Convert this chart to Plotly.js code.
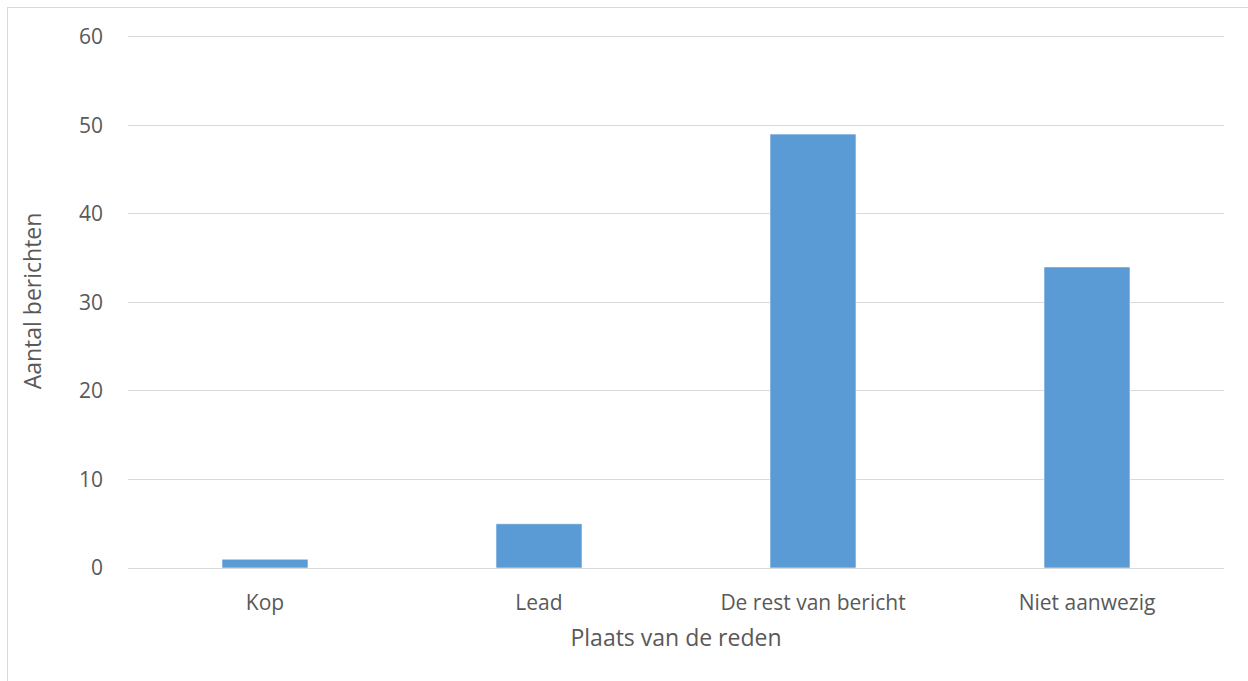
<!DOCTYPE html>
<html>
<head>
<meta charset="utf-8">
<script src="https://cdn.plot.ly/plotly-3.0.1.min.js"></script>
<style>
html,body{margin:0;padding:0;background:#fff;overflow:hidden;}
#frame{position:absolute;left:7px;top:7px;width:1300px;height:800px;border:1px solid #D9D9D9;box-sizing:border-box;}
#chart{position:absolute;left:0;top:0;width:1248px;height:681px;}
</style>
</head>
<body>
<div id="frame"></div>
<div id="chart"></div>
<script>
const categories = ["Kop", "Lead", "De rest van bericht", "Niet aanwezig"];
const values = [1, 5, 49, 34];
const yTicks = [0, 10, 20, 30, 40, 50, 60];

const trace = {
  type: "bar",
  x: categories,
  y: values,
  marker: {color: "#5B9BD5", line: {color: "rgba(255,255,255,0.6)", width: 1}},
  hoverinfo: "x+y"
};

const layout = {
  width: 1248,
  height: 681,
  margin: {l: 128, r: 24, t: 34, b: 113},
  paper_bgcolor: "rgba(0,0,0,0)",
  plot_bgcolor: "rgba(0,0,0,0)",
  bargap: 0.686,
  showlegend: false,
  font: {family: "Open Sans, Calibri, sans-serif", color: "#595959", size: 21},
  xaxis: {
    type: "category",
    showgrid: false,
    zeroline: false,
    showline: false,
    ticks: "",
    ticklabelstandoff: 20,
    tickfont: {size: 21, color: "#595959"},
    title: {text: "Plaats van de reden", font: {size: 23, color: "#595959"}, standoff: 14}
  },
  yaxis: {
    range: [0, 60.3],
    tickvals: yTicks,
    ticktext: yTicks.map(String),
    showgrid: true,
    gridcolor: "#D9D9D9",
    gridwidth: 1,
    zeroline: true,
    zerolinecolor: "#D9D9D9",
    zerolinewidth: 1,
    showline: false,
    ticks: "",
    ticklabelstandoff: 24,
    tickfont: {size: 21, color: "#595959"},
    title: {text: "Aantal berichten", font: {size: 23, color: "#595959"}, standoff: 30}
  }
};

Plotly.newPlot("chart", [trace], layout, {displayModeBar: false, staticPlot: true});
</script>
</body>
</html>
